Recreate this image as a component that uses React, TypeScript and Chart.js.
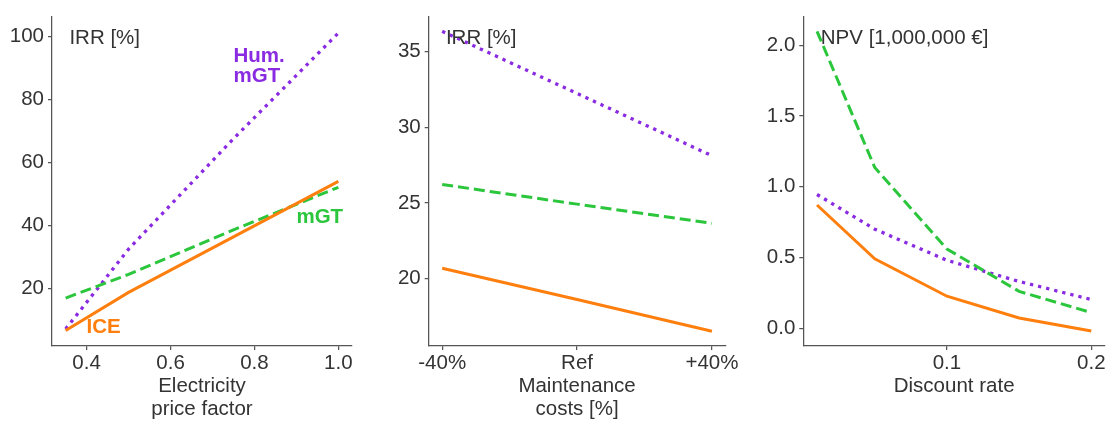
import React, { useEffect, useRef } from 'react';
import { Chart, registerables } from 'chart.js';

Chart.register(...registerables);

const FONT = "'Liberation Sans', Arial, Helvetica, sans-serif";
const FS = 20.5;
const TEXT = '#333333';
const AXIS = '#555555';
const ORANGE = '#ff7f0e';
const GREEN = '#2bc63c';
const PURPLE = '#8a2be2';

// ---- Panel 1: IRR vs electricity price factor ----
const priceFactor = [0.35, 0.5, 0.75, 1.0];
const p1ICE = [6.7, 18.8, 36.4, 54.0];
const p1MGT = [17.0, 24.5, 38.6, 52.1];
const p1Hum = [7.2, 32.5, 67.5, 101.0];
const p1XTicks = [0.4, 0.6, 0.8, 1.0];
const p1YTicks = [20, 40, 60, 80, 100];
const p1Labels = [
  { text: 'Hum.', x: 0.75, y: 93.7, color: PURPLE },
  { text: 'mGT', x: 0.75, y: 87.4, color: PURPLE },
  { text: 'mGT', x: 0.9, y: 42.5, color: GREEN },
  { text: 'ICE', x: 0.4, y: 7.6, color: ORANGE },
];

// ---- Panel 2: IRR vs maintenance costs ----
const maintLabels = ['-40%', 'Ref', '+40%'];
const p2ICE = [20.69, 18.62, 16.53];
const p2MGT = [26.23, 24.93, 23.66];
const p2Hum = [36.36, 32.25, 28.13];
const p2YTicks = [20, 25, 30, 35];

// ---- Panel 3: NPV vs discount rate ----
const discountRate = [0.01, 0.05, 0.1, 0.15, 0.2];
const p3ICE = [0.871, 0.49, 0.226, 0.072, -0.02];
const p3MGT = [2.099, 1.136, 0.56, 0.26, 0.11];
const p3Hum = [0.945, 0.7, 0.48, 0.33, 0.203];
const p3XTicks = [0.1, 0.2];
const p3YTicks = [0, 0.5, 1.0, 1.5, 2.0];

const annotPlugin = {
  id: 'annot',
  afterDatasetsDraw(chart: any, _args: any, opts: any) {
    const { ctx, chartArea, scales } = chart;
    ctx.save();
    ctx.textBaseline = 'middle';
    ctx.textAlign = 'left';
    ctx.font = `${FS}px ${FONT}`;
    ctx.fillStyle = TEXT;
    const w = chartArea.right - chartArea.left;
    ctx.fillText(opts.title, chartArea.left + 0.058 * w, chartArea.top + 22);
    for (const l of opts.labels || []) {
      ctx.font = `bold ${FS}px ${FONT}`;
      ctx.fillStyle = l.color;
      ctx.fillText(l.text, scales.x.getPixelForValue(l.x), scales.y.getPixelForValue(l.y));
    }
    ctx.restore();
  },
};

function series(xs: number[], ys: number[]) {
  return ys.map((y, i) => ({ x: xs[i], y }));
}

function datasets(xs: number[], ice: number[], mgt: number[], hum: number[]) {
  return [
    {
      label: 'ICE',
      data: series(xs, ice),
      borderColor: ORANGE,
      borderWidth: 3,
      pointRadius: 0,
      tension: 0,
    },
    {
      label: 'mGT',
      data: series(xs, mgt),
      borderColor: GREEN,
      borderWidth: 3,
      borderDash: [11, 5],
      pointRadius: 0,
      tension: 0,
    },
    {
      label: 'Hum. mGT',
      data: series(xs, hum),
      borderColor: PURPLE,
      borderWidth: 3.3,
      borderDash: [3.3, 5],
      pointRadius: 0,
      tension: 0,
    },
  ];
}

type PanelCfg = {
  left: number;
  width: number;
  yAxisWidth: number;
  padRight: number;
  xMin: number;
  xMax: number;
  yMin: number;
  yMax: number;
  xTicks: number[];
  xFmt: (v: number) => string;
  yTicks: number[];
  yFmt: (v: number) => string;
  xTitle: string | string[];
  titlePadBottom: number;
  title: string;
  labels: any[];
  data: any[];
};

const panels: PanelCfg[] = [
  {
    left: 0,
    width: 365,
    yAxisWidth: 52,
    padRight: 13,
    xMin: 0.3175,
    xMax: 1.0325,
    yMin: 1.8,
    yMax: 106.3,
    xTicks: p1XTicks,
    xFmt: (v) => v.toFixed(1),
    yTicks: p1YTicks,
    yFmt: (v) => String(v),
    xTitle: ['Electricity', 'price factor'],
    titlePadBottom: 2,
    title: 'IRR [%]',
    labels: p1Labels,
    data: datasets(priceFactor, p1ICE, p1MGT, p1Hum),
  },
  {
    left: 365,
    width: 375,
    yAxisWidth: 63.7,
    padRight: 12,
    xMin: -0.1,
    xMax: 2.1,
    yMin: 15.55,
    yMax: 37.35,
    xTicks: [0, 1, 2],
    xFmt: (v) => maintLabels[Math.round(v)] ?? '',
    yTicks: p2YTicks,
    yFmt: (v) => String(v),
    xTitle: ['Maintenance', 'costs [%]'],
    titlePadBottom: 2,
    title: 'IRR [%]',
    labels: [],
    data: datasets([0, 1, 2], p2ICE, p2MGT, p2Hum),
  },
  {
    left: 740,
    width: 372,
    yAxisWidth: 63.3,
    padRight: 7,
    xMin: 0.0005,
    xMax: 0.2095,
    yMin: -0.126,
    yMax: 2.205,
    xTicks: p3XTicks,
    xFmt: (v) => v.toFixed(1),
    yTicks: p3YTicks,
    yFmt: (v) => v.toFixed(1),
    xTitle: 'Discount rate',
    titlePadBottom: 25,
    title: 'NPV [1,000,000 €]',
    labels: [],
    data: datasets(discountRate, p3ICE, p3MGT, p3Hum),
  },
];

const H = 423;

function Panel({ cfg }: { cfg: PanelCfg }) {
  const ref = useRef<HTMLCanvasElement | null>(null);
  useEffect(() => {
    if (!ref.current) return;
    const chart = new Chart(ref.current, {
      type: 'line',
      data: { datasets: cfg.data },
      plugins: [annotPlugin],
      options: {
        animation: false,
        responsive: false,
        maintainAspectRatio: false,
        devicePixelRatio: 1,
        layout: { padding: { top: 9, right: cfg.padRight, bottom: 0, left: 0 } },
        plugins: {
          legend: { display: false },
          tooltip: { enabled: false },
          annot: { title: cfg.title, labels: cfg.labels },
        } as any,
        scales: {
          x: {
            type: 'linear',
            min: cfg.xMin,
            max: cfg.xMax,
            afterBuildTicks: (axis: any) => {
              axis.ticks = cfg.xTicks.map((v) => ({ value: v }));
            },
            afterFit: (axis: any) => {
              axis.height = 77;
            },
            ticks: {
              autoSkip: false,
              maxRotation: 0,
              padding: 1,
              color: TEXT,
              font: { family: FONT, size: FS, lineHeight: 1.17 },
              callback: (v: any) => cfg.xFmt(Number(v)),
            },
            grid: {
              display: true,
              drawOnChartArea: false,
              drawTicks: true,
              tickLength: 4,
              color: AXIS,
              lineWidth: 1.25,
            },
            border: { display: true, color: AXIS, width: 1.25 },
            title: {
              display: true,
              text: cfg.xTitle,
              color: TEXT,
              font: { family: FONT, size: FS, lineHeight: 1.12 },
              padding: { top: 0, bottom: cfg.titlePadBottom },
            },
          },
          y: {
            type: 'linear',
            min: cfg.yMin,
            max: cfg.yMax,
            afterBuildTicks: (axis: any) => {
              axis.ticks = cfg.yTicks.map((v) => ({ value: v }));
            },
            afterFit: (axis: any) => {
              axis.width = cfg.yAxisWidth;
            },
            ticks: {
              autoSkip: false,
              padding: 4,
              color: TEXT,
              font: { family: FONT, size: FS },
              callback: (v: any) => cfg.yFmt(Number(v)),
            },
            grid: {
              display: true,
              drawOnChartArea: false,
              drawTicks: true,
              tickLength: 4,
              color: AXIS,
              lineWidth: 1.25,
            },
            border: { display: true, color: AXIS, width: 1.25 },
          },
        },
      } as any,
    });
    return () => chart.destroy();
  }, [cfg]);
  return (
    <canvas
      ref={ref}
      width={cfg.width}
      height={H}
      style={{ position: 'absolute', left: cfg.left, top: 0, width: cfg.width, height: H }}
    />
  );
}

export default function App() {
  return (
    <div
      style={{
        position: 'fixed',
        left: 0,
        top: 0,
        width: 1112,
        height: H,
        background: '#ffffff',
        overflow: 'hidden',
      }}
    >
      {panels.map((p, i) => (
        <Panel key={i} cfg={p} />
      ))}
    </div>
  );
}
